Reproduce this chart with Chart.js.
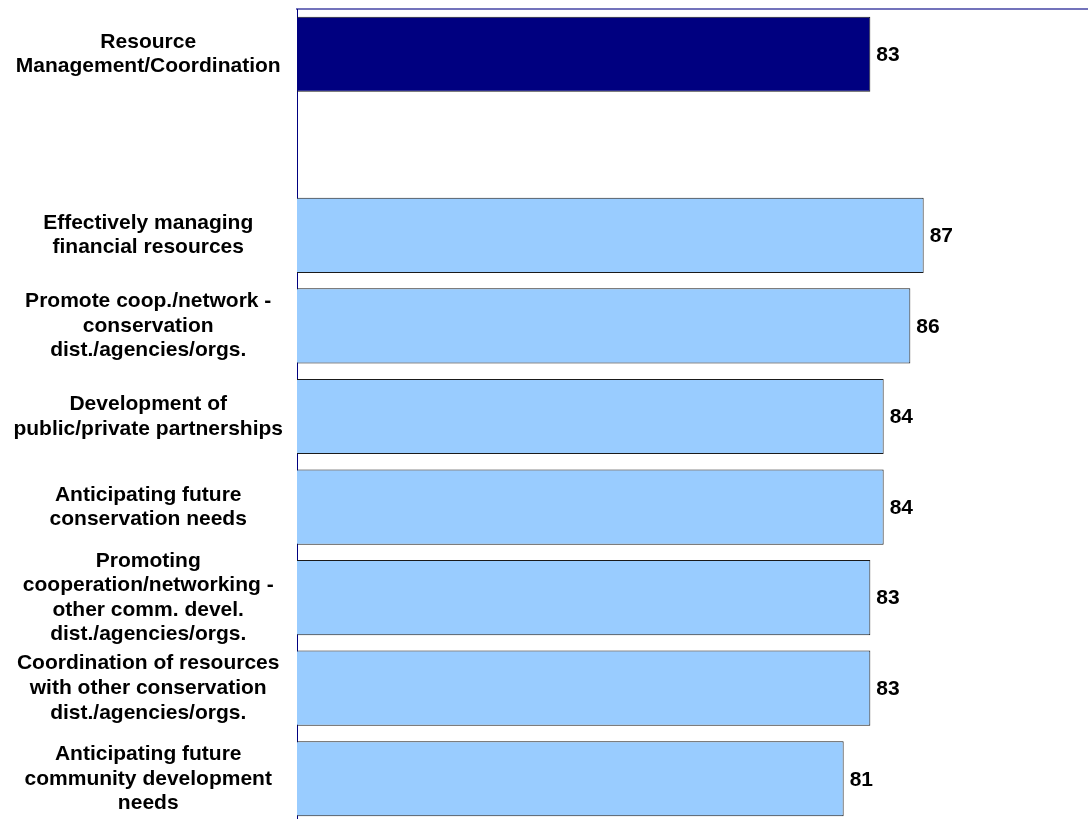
<!DOCTYPE html>
<html>
<head>
<meta charset="utf-8">
<script src="https://cdn.jsdelivr.net/npm/chart.js@4"></script>
<style>
  body { margin: 0; background: #fff; }
  #wrap { width: 1088px; height: 819px; overflow: hidden; position: relative; }
  #chart { position: absolute; left: 0; top: 0; }
</style>
</head>
<body>
<div id="wrap"><canvas id="chart" width="1100" height="824"></canvas></div>
<script>
// Categories (top to bottom), the second one is an empty gap row
var categories = [
  ["Resource", "Management/Coordination"],
  "",
  ["Effectively managing", "financial resources"],
  ["Promote coop./network -", "conservation", "dist./agencies/orgs."],
  ["Development of", "public/private partnerships"],
  ["Anticipating future", "conservation needs"],
  ["Promoting", "cooperation/networking -", "other comm. devel.", "dist./agencies/orgs."],
  ["Coordination of resources", "with other conservation", "dist./agencies/orgs."],
  ["Anticipating future", "community development", "needs"]
];
var scores = [83, null, 87, 86, 84, 84, 83, 83, 81];
var barColors = ["#000080", "#99ccff", "#99ccff", "#99ccff", "#99ccff", "#99ccff", "#99ccff", "#99ccff", "#99ccff"];

var axisMin = 40;
var axisMax = 100;

// Draw the value next to the end of each bar
var valueLabels = {
  id: "valueLabels",
  afterDatasetsDraw: function (chart) {
    var ctx = chart.ctx;
    var meta = chart.getDatasetMeta(0);
    ctx.save();
    ctx.font = "bold 21px 'Liberation Sans', Arial, sans-serif";
    ctx.fillStyle = "#000";
    ctx.textAlign = "left";
    ctx.textBaseline = "middle";
    meta.data.forEach(function (bar, i) {
      if (scores[i] === null) return;
      ctx.fillText(String(scores[i]), bar.x + 6, bar.y + 1);
    });
    ctx.restore();
  }
};

var ctx = document.getElementById("chart").getContext("2d");
var chart = new Chart(ctx, {
  type: "bar",
  data: {
    labels: categories,
    datasets: [
      {
        data: scores,
        backgroundColor: barColors,
        borderColor: "#1a1a1a",
        borderWidth: 1,
        borderSkipped: false,
        barPercentage: 0.83,
        categoryPercentage: 1.0
      }
    ]
  },
  options: {
    indexAxis: "y",
    responsive: false,
    animation: false,
    layout: { padding: { top: 9, right: 3, left: 0, bottom: 0 } },
    plugins: {
      legend: { display: false },
      tooltip: { enabled: false }
    },
    scales: {
      x: {
        position: "top",
        min: axisMin,
        max: axisMax,
        grid: { display: false, drawTicks: false },
        ticks: { display: false },
        border: { display: true, color: "#7373bb", width: 2 }
      },
      y: {
        grid: { display: false, drawTicks: false },
        border: { display: true, color: "#000080", width: 1 },
        afterFit: function (scale) {
          scale.width = 297;
          scale.paddingTop = 0;
          scale.paddingBottom = 0;
        },
        ticks: {
          autoSkip: false,
          crossAlign: "center",
          padding: 14,
          color: "#000",
          font: { family: "'Liberation Sans', Arial, sans-serif", size: 21, weight: "bold", lineHeight: 1.17 }
        }
      }
    }
  },
  plugins: [valueLabels]
});
</script>
</body>
</html>
